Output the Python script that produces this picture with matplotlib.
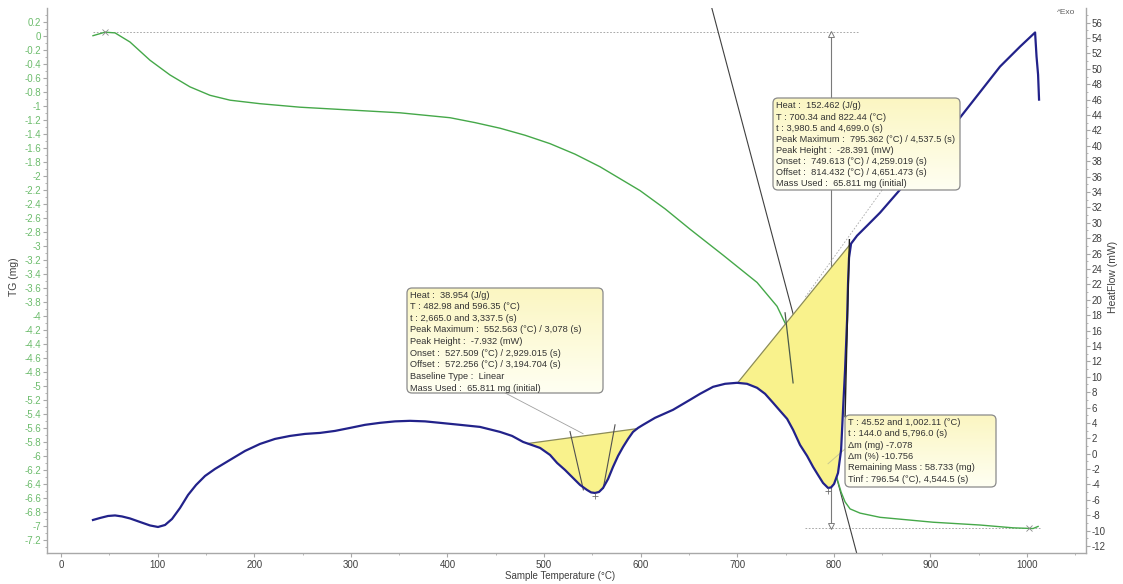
import numpy as np
import matplotlib
matplotlib.use("Agg")
import matplotlib.pyplot as plt
from matplotlib.patches import FancyBboxPatch
from matplotlib.colors import LinearSegmentedColormap
from matplotlib.ticker import MultipleLocator, FuncFormatter

plt.rcParams['font.family'] = ['Liberation Sans', 'DejaVu Sans']
plt.rcParams['axes.unicode_minus'] = False

# ---- TG curve (mass change, mg) ----
tg_temp = [33.1, 45.5, 55.9, 71.4, 92.1, 112.8, 133.5, 154.2, 175.0, 206.0,
           247.4, 299.2, 350.9, 402.7, 428.6, 454.5, 480.3, 506.2, 532.1, 558.0,
           599.4, 625.3, 651.1, 685.3, 720.5, 741.2, 751.6, 765.0, 777.4, 787.8,
           796.6, 802.3, 807.5, 811.6, 816.8, 827.1, 847.8, 902.7, 951.4, 985.5,
           1006.2, 1011.4]
tg_mass = [0.00, 0.05, 0.04, -0.09, -0.35, -0.56, -0.73, -0.85, -0.92, -0.97,
           -1.02, -1.06, -1.10, -1.17, -1.24, -1.32, -1.42, -1.54, -1.69, -1.87,
           -2.21, -2.47, -2.76, -3.13, -3.52, -3.86, -4.16, -4.54, -5.05, -5.51,
           -5.98, -6.27, -6.51, -6.65, -6.75, -6.81, -6.87, -6.94, -6.98, -7.02,
           -7.03, -7.00]

# ---- DSC curve (heat flow, mW) ----
dsc_temp = [33.1, 40.4, 48.7, 55.9, 63.1, 71.4, 81.8, 92.1, 100.4, 107.7,
            114.9, 123.2, 131.5, 139.8, 149.1, 159.4, 174.9, 190.5, 206.0, 221.5,
            237.1, 252.6, 268.1, 283.6, 299.2, 314.7, 330.2, 345.8, 361.3, 376.8,
            392.3, 413.0, 433.7, 454.5, 466.9, 478.3, 495.9, 506.2, 513.5, 521.7,
            530.0, 537.3, 544.5, 548.7, 552.8, 556.9, 561.1, 566.3, 571.4, 576.6,
            581.8, 587.0, 592.1, 597.3, 602.5, 614.9, 633.5, 651.1, 661.5, 675.0,
            687.4, 699.8, 710.1, 720.5, 728.8, 737.1, 744.3, 751.6, 757.8, 765.0,
            772.3, 778.5, 783.6, 788.8, 794.0, 797.1, 800.2, 804.3, 807.5, 809.5,
            811.6, 813.7, 814.7, 815.7, 817.8, 824.0, 834.4, 847.8, 868.5, 899.6,
            930.6, 972.0, 992.8, 1008.3, 1009.8, 1011.4, 1012.4]
dsc_flow = [-8.61, -8.35, -8.09, -8.02, -8.15, -8.41, -8.87, -9.32, -9.52, -9.26,
            -8.48, -7.05, -5.36, -4.06, -2.89, -1.98, -0.81, 0.36, 1.27, 1.92,
            2.31, 2.57, 2.70, 2.96, 3.35, 3.75, 4.01, 4.20, 4.27, 4.20,
            4.01, 3.75, 3.48, 2.83, 2.31, 1.53, 0.75, -0.16, -1.20, -2.11,
            -3.15, -4.06, -4.71, -5.03, -5.10, -4.97, -4.45, -3.28, -1.72, -0.29,
            0.88, 1.92, 2.83, 3.35, 3.75, 4.66, 5.70, 7.00, 7.78, 8.69,
            9.08, 9.21, 9.08, 8.56, 7.78, 6.61, 5.57, 4.53, 3.10, 1.14,
            -0.29, -1.72, -2.76, -3.80, -4.45, -4.38, -3.93, -2.50, 0.49, 5.70,
            10.90, 17.40, 22.21, 25.46, 27.28, 28.32, 29.62, 31.31, 34.30, 38.85,
            43.66, 50.29, 52.89, 54.72, 51.59, 49.24, 46.00]

# ---- analysis ranges ----
peak1_range = (482.98, 596.35)
peak2_range = (700.34, 822.44)
tg_range = (45.52, 1002.11)
t_inf = 796.54

box1_lines = ["Heat :  38.954 (J/g)",
              "T : 482.98 and 596.35 (°C)",
              "t : 2,665.0 and 3,337.5 (s)",
              "Peak Maximum :  552.563 (°C) / 3,078 (s)",
              "Peak Height :  -7.932 (mW)",
              "Onset :  527.509 (°C) / 2,929.015 (s)",
              "Offset :  572.256 (°C) / 3,194.704 (s)",
              "Baseline Type :  Linear",
              "Mass Used :  65.811 mg (initial)"]
box2_lines = ["Heat :  152.462 (J/g)",
              "T : 700.34 and 822.44 (°C)",
              "t : 3,980.5 and 4,699.0 (s)",
              "Peak Maximum :  795.362 (°C) / 4,537.5 (s)",
              "Peak Height :  -28.391 (mW)",
              "Onset :  749.613 (°C) / 4,259.019 (s)",
              "Offset :  814.432 (°C) / 4,651.473 (s)",
              "Mass Used :  65.811 mg (initial)"]
box3_lines = ["T : 45.52 and 1,002.11 (°C)",
              "t : 144.0 and 5,796.0 (s)",
              "Δm (mg) -7.078",
              "Δm (%) -10.756",
              "Remaining Mass : 58.733 (mg)",
              "Tinf : 796.54 (°C), 4,544.5 (s)"]

W, H = 1123, 584
fig = plt.figure(figsize=(W / 100, H / 100), dpi=100)
fig.patch.set_facecolor('white')

ax = fig.add_axes([47 / W, 1 - 553 / H, (1086 - 47) / W, (553 - 8) / H])
ax2 = ax.twinx()

spine_c = '#a8a8a8'
green = '#45a849'
navy = '#22228a'

ax.set_xlim(-14.5, 1061)
ax.set_ylim(-7.379, 0.395)
ax2.set_ylim(-12.9, 57.9)

for s in ['top', 'right']:
    ax.spines[s].set_visible(False)
for s in ['top', 'left', 'bottom']:
    ax2.spines[s].set_visible(False)
ax.spines['left'].set_color(spine_c)
ax.spines['bottom'].set_color(spine_c)
ax2.spines['right'].set_color(spine_c)
for sp in list(ax.spines.values()) + list(ax2.spines.values()):
    sp.set_linewidth(1.0)

ax.xaxis.set_major_locator(MultipleLocator(100))
ax.xaxis.set_minor_locator(MultipleLocator(50))
ax.yaxis.set_major_locator(MultipleLocator(0.2))
ax.yaxis.set_minor_locator(MultipleLocator(0.1))
ax2.yaxis.set_major_locator(MultipleLocator(2))
ax2.yaxis.set_minor_locator(MultipleLocator(1))


def tg_fmt(v, _):
    if abs(v) < 1e-9:
        return "0"
    return ("%.1f" % v).rstrip('0').rstrip('.')


ax.yaxis.set_major_formatter(FuncFormatter(tg_fmt))
ax2.yaxis.set_major_formatter(FuncFormatter(lambda v, _: "%d" % round(v)))

ax.tick_params(axis='y', which='major', length=3, width=0.8, color=spine_c,
               labelsize=7, labelcolor='#6cbc6c', pad=1)
ax.tick_params(axis='y', which='minor', length=1.5, width=0.6, color=spine_c)
ax.tick_params(axis='x', which='major', length=3, width=0.8, color=spine_c,
               labelsize=7, labelcolor='#404040', pad=2)
ax.tick_params(axis='x', which='minor', length=1.5, width=0.6, color=spine_c)
ax2.tick_params(axis='y', which='major', length=3, width=0.8, color=spine_c,
                labelsize=7, labelcolor='#404040', pad=1)
ax2.tick_params(axis='y', which='minor', length=1.5, width=0.6, color=spine_c)

# ---- TG curve and its step analysis ----
tgT = np.array(tg_temp)
tgM = np.array(tg_mass)
ax.plot(tgT, tgM, color=green, lw=1.0, zorder=3)

m_start = np.interp(tg_range[0], tgT, tgM)
m_end = np.interp(tg_range[1], tgT, tgM)
dot_style = dict(color='#9a9a9a', lw=0.6, ls=(0, (2, 2)), zorder=2)
ax.plot([tgT[0], 825], [m_start, m_start], **dot_style)
ax.plot([770, tgT[-1] + 2], [m_end, m_end], **dot_style)
ax.plot([t_inf, t_inf], [m_start, m_end], color='#7a7a7a', lw=0.8, zorder=2)
ax.plot([t_inf], [m_start - 0.03], marker='^', ms=4, mfc='white', mec='#7a7a7a',
        mew=0.7, zorder=3)
ax.plot([t_inf], [m_end + 0.03], marker='v', ms=4, mfc='white', mec='#7a7a7a',
        mew=0.7, zorder=3)
ax.plot(tg_range, [m_start, m_end], ls='none', marker='x', ms=4,
        mec='#8a8a8a', mew=0.6, zorder=4)

# tangent at the inflection point of the main mass step
m_inf = np.interp(t_inf, tgT, tgM)
slope = np.interp(t_inf, tgT, np.gradient(tgM, tgT))
tan_T = np.array([640, 860])
ax.plot(tan_T, m_inf + slope * (tan_T - t_inf), color='#404040', lw=0.8, zorder=2)

# ---- DSC curve with integrated peaks ----
dT = np.array(dsc_temp)
dF = np.array(dsc_flow)


def peak_region(t1, t2):
    f1 = np.interp(t1, dT, dF)
    f2 = np.interp(t2, dT, dF)
    inside = (dT > t1) & (dT < t2)
    xs = np.concatenate([[t1], dT[inside], [t2]])
    ys = np.concatenate([[f1], dF[inside], [f2]])
    return xs, ys, f1, f2


for (t1, t2) in (peak1_range, peak2_range):
    xs, ys, f1, f2 = peak_region(t1, t2)
    ax2.fill(xs, ys, facecolor='#f9f28c', edgecolor='none', zorder=2)
    ax2.plot([t1, t2], [f1, f2], color='#8c8c58', lw=0.9, zorder=3)
    k = np.argmin(ys)
    ax2.plot([xs[k]], [ys[k] - 0.4], marker='+', ms=5, mec='#707070', mew=0.6,
             zorder=5)

ax2.plot(dT, dF, color=navy, lw=1.6, zorder=4)

# tangent construction lines for onset / offset
tangent_c = '#505050'
ax2.plot([526.9, 540.7], [2.87, -4.7], color=tangent_c, lw=0.8, zorder=3)
ax2.plot([573.5, 561.3], [3.75, -4.5], color=tangent_c, lw=0.8, zorder=3)
ax2.plot([749.5, 757.8], [18.3, 9.2], color='#4a5a4a', lw=0.9, zorder=3)
ax2.plot([816.1, 811.6], [27.8, 4.8], color='#202020', lw=1.0, zorder=5)

# leader lines to the result boxes
ax2.plot([459.6, 540.4], [7.9, 2.6], color='#a0a0a0', lw=0.6, zorder=3)
ax2.plot([852.0, 770.2], [34.6, 20.3], color='#a8a8a8', lw=0.6,
         ls=(0, (2, 2)), zorder=3)
ax2.plot([811.6, 794.0], [0.62, -1.3], color='#c8c890', lw=0.7, zorder=3)

# ---- result boxes (overlay in pixel units) ----
ov = fig.add_axes([0, 0, 1, 1])
ov.set_zorder(10)
ov.patch.set_alpha(0)
ov.axis('off')
box_cmap = LinearSegmentedColormap.from_list('boxgrad', ['#fbf6c2', '#fffff2'])


def result_box(x0, y0, x1, y1, lines, tx, first, pitch):
    patch = FancyBboxPatch((x0, y0), x1 - x0, y1 - y0,
                           boxstyle='round,pad=0,rounding_size=5',
                           fc='none', ec='#8a8a8a', lw=0.9, zorder=3)
    ov.add_patch(patch)
    grad = np.linspace(0, 1, 64)[:, None]
    im = ov.imshow(grad, extent=(x0, x1, y1, y0), cmap=box_cmap,
                   aspect='auto', zorder=2, interpolation='bilinear')
    im.set_clip_path(patch)
    for i, s in enumerate(lines):
        ov.text(tx, first + i * pitch, s, fontsize=6.7, color='#333333',
                va='center', ha='left', zorder=4)


result_box(407, 288, 603, 393, box1_lines, 410, 295, 11.66)
result_box(773, 98, 960, 190, box2_lines, 776, 106, 11.1)
result_box(845, 415, 996, 487, box3_lines, 848, 422.5, 11.3)

ov.set_xlim(0, W)
ov.set_ylim(H, 0)

# ---- axis titles ----
fig.text(560 / W, 1 - 576 / H, 'Sample Temperature (°C)', fontsize=7,
         color='#404040', ha='center', va='center')
fig.text(14 / W, 1 - 277 / H, 'TG (mg)', fontsize=7.5, color='#404040',
         ha='center', va='center', rotation=90)
fig.text(1113 / W, 1 - 277 / H, 'HeatFlow (mW)', fontsize=7.5, color='#404040',
         ha='center', va='center', rotation=90)
fig.text(1057 / W, 1 - 12 / H, '^Exo', fontsize=6, color='#606060',
         ha='left', va='center')

fig.savefig('out.png', dpi=100)
